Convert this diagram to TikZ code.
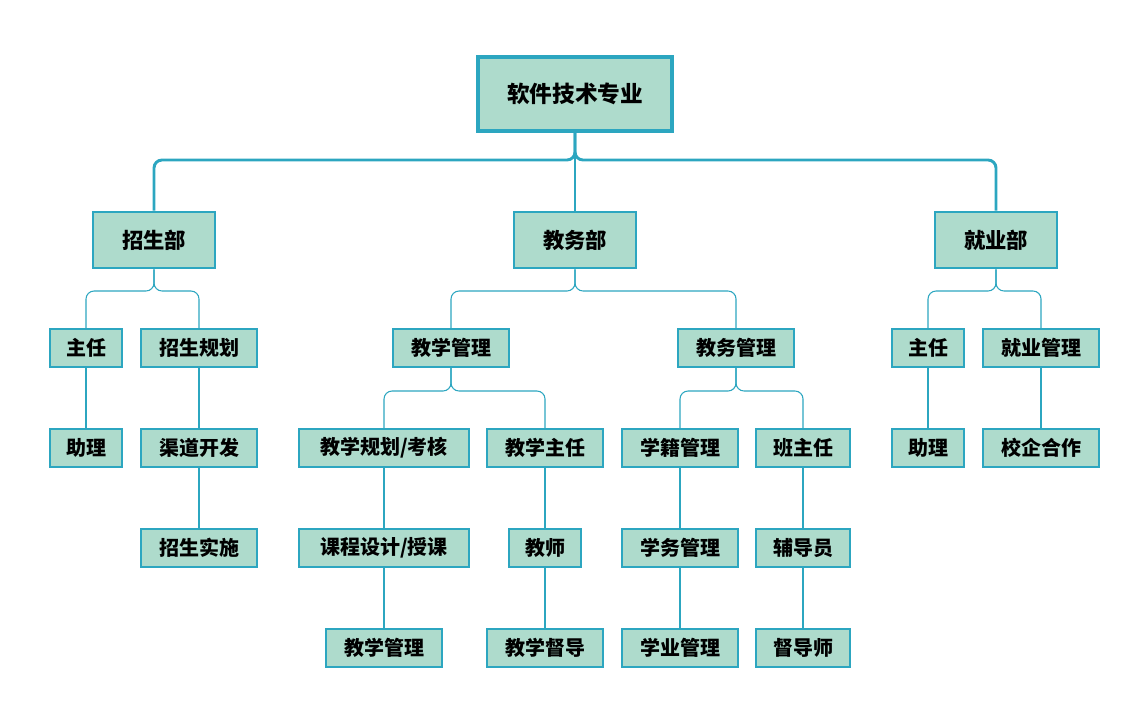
\documentclass[tikz,border=0pt]{standalone}
\usepackage{fontspec}
\newfontfamily\cjk{Noto Sans CJK SC}
\definecolor{boxfill}{RGB}{174,219,204}
\definecolor{boxline}{RGB}{44,166,192}
\begin{document}
\begin{tikzpicture}[x=0.75pt,y=-0.75pt,
    top/.style={draw=boxline, fill=boxfill, line width=2.4pt, font=\cjk\bfseries\fontsize{17}{17}\selectfont, minimum width=145.5pt, minimum height=55.5pt, inner sep=0pt},
    dept/.style={draw=boxline, fill=boxfill, line width=2.2pt, font=\cjk\bfseries\fontsize{16}{16}\selectfont, minimum width=91.5pt, minimum height=42pt, inner sep=0pt},
    item/.style={draw=boxline, fill=boxfill, line width=0.8pt, font=\cjk\bfseries\fontsize{15}{15}\selectfont, minimum height=28.5pt, inner sep=0pt},
    w72/.style={minimum width=54pt}, w94/.style={minimum width=70.5pt},
    w116/.style={minimum width=87pt}, w170/.style={minimum width=127.5pt},
    thick link/.style={draw=boxline, line width=2.2pt, rounded corners=6pt},
    thin link/.style={draw=boxline, line width=0.8pt, rounded corners=6pt},
  ]
\useasboundingbox (0,0) rectangle (1130,721);

% top level
\node[top] (root) at (575,94) {软件技术专业};
\node[dept] (zs) at (154,240) {招生部};
\node[dept] (jw) at (575,240) {教务部};
\node[dept] (jy) at (996,240) {就业部};

% second level
\node[item,w72] (zr1) at (86,348) {主任};
\node[item,w116] (zsgh) at (199,348) {招生规划};
\node[item,w116] (jxgl) at (451,348) {教学管理};
\node[item,w116] (jwgl) at (736,348) {教务管理};
\node[item,w72] (zr2) at (928,348) {主任};
\node[item,w116] (jygl) at (1041,348) {就业管理};

% third level
\node[item,w72] (zl1) at (86,448) {助理};
\node[item,w116] (qdkf) at (199,448) {渠道开发};
\node[item,w170] (jxgh) at (384,448) {教学规划/考核};
\node[item,w116] (jxzr) at (545,448) {教学主任};
\node[item,w116] (xjgl) at (680,448) {学籍管理};
\node[item,w94] (bzr) at (803,448) {班主任};
\node[item,w72] (zl2) at (928,448) {助理};
\node[item,w116] (xqhz) at (1041,448) {校企合作};

% fourth level
\node[item,w116] (zsss) at (199,548) {招生实施};
\node[item,w170] (kcsj) at (384,548) {课程设计/授课};
\node[item,w72] (js) at (545,548) {教师};
\node[item,w116] (xwgl) at (680,548) {学务管理};
\node[item,w94] (fdy) at (803,548) {辅导员};

% fifth level
\node[item,w116] (jxgl2) at (384,648) {教学管理};
\node[item,w116] (jxdd) at (545,648) {教学督导};
\node[item,w116] (xygl) at (680,648) {学业管理};
\node[item,w94] (dds) at (803,648) {督导师};

% links
\draw[thick link] (root.south) -- (575,160) -| (zs.north);
\draw[thick link] (root.south) -- (575,160) -| (jy.north);
\draw[thick link] (root.south) -- (jw.north);
\foreach \p/\a/\b/\y in {zs/zr1/zsgh/291, jw/jxgl/jwgl/291, jy/zr2/jygl/291, jxgl/jxgh/jxzr/391, jwgl/xjgl/bzr/391}{
  \draw[thin link] (\p.south) |- ([yshift=0pt]\p.south |- 0,\y) -| (\a.north);
  \draw[thin link] (\p.south) |- ([yshift=0pt]\p.south |- 0,\y) -| (\b.north);
}
\foreach \a/\b in {zr1/zl1, zsgh/qdkf, qdkf/zsss, zr2/zl2, jygl/xqhz, jxgh/kcsj, kcsj/jxgl2, jxzr/js, js/jxdd, xjgl/xwgl, xwgl/xygl, bzr/fdy, fdy/dds}
  \draw[thin link] (\a.south) -- (\b.north);
\end{tikzpicture}
\end{document}
